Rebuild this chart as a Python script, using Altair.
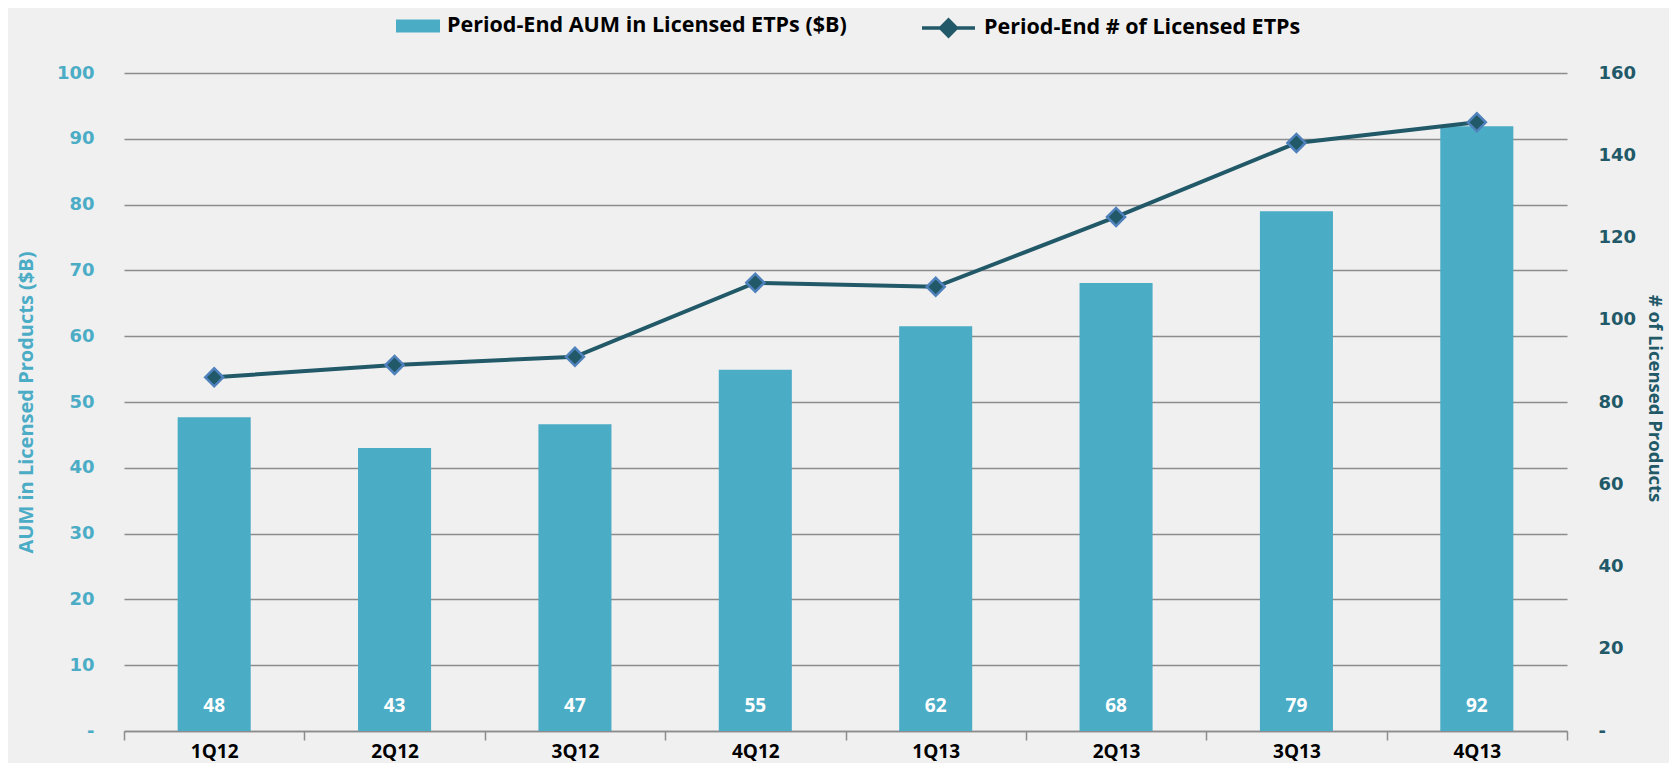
import altair as alt
import pandas as pd

quarters = ["1Q12", "2Q12", "3Q12", "4Q12", "1Q13", "2Q13", "3Q13", "4Q13"]
aum = [47.7, 43.0, 46.6, 54.9, 61.5, 68.1, 79.0, 91.9]
etps = [86, 89, 91, 109, 108, 125, 143, 148]

BAR_SERIES = "Period-End AUM in Licensed ETPs ($B)"
LINE_SERIES = "Period-End # of Licensed ETPs"

df = pd.DataFrame({
    "q": quarters,
    "aum": aum,
    "etps": etps,
    "bs": [BAR_SERIES] * len(quarters),
    "ls": [LINE_SERIES] * len(quarters),
})

BAR = "#4BACC6"
LINE = "#215968"
MARK_STROKE = "#4F81BD"
FONT = "Open Sans"
W, H = 1443, 658

base = alt.Chart(df)

xaxis = alt.Axis(
    title=None, labelFont=FONT, labelFontSize=19, labelFontWeight="bold",
    labelColor="#000000", labelAngle=0, labelPadding=2, tickBand="extent",
    tickSize=9, tickColor="#8c8c8c", tickWidth=1.5, domainColor="#8c8c8c",
    domainWidth=1.5, grid=False,
)
xenc = alt.X("q:N", sort=quarters, axis=xaxis,
             scale=alt.Scale(paddingInner=0, paddingOuter=0))
xplain = alt.X("q:N", sort=quarters)

bars = base.mark_bar(width=alt.RelativeBandSize(0.405)).encode(
    x=xenc,
    y=alt.Y(
        "aum:Q",
        scale=alt.Scale(domain=[0, 100], nice=False),
        axis=alt.Axis(
            title="AUM in Licensed Products ($B)", values=list(range(0, 101, 10)),
            labelExpr="datum.value == 0 ? '-' : datum.label",
            labelFont="DejaVu Sans", labelFontSize=18, labelFontWeight="bold",
            labelColor=BAR, labelPadding=30, ticks=False, domain=False,
            grid=True, gridColor="#8c8c8c", gridWidth=1.5,
            titleFont=FONT, titleFontSize=20, titleFontWeight="bold",
            titleColor=BAR, titleX=-98, titleY=H / 2, titleAngle=-90,
            titleBaseline="middle", titleAlign="center",
        ),
    ),
    fill=alt.Fill(
        "bs:N",
        scale=alt.Scale(domain=[BAR_SERIES], range=[BAR]),
        legend=alt.Legend(
            orient="none", legendX=272, legendY=-69, title=None,
            symbolType="M-1,-0.3H1V0.3H-1Z", symbolSize=1936,
            symbolStrokeWidth=0, labelOffset=7,
        ),
    ),
)

labels = base.mark_text(
    color="white", font=FONT, fontSize=19, fontWeight="bold",
    baseline="middle", dy=-25,
).encode(
    x=xplain,
    y=alt.datum(0),
    text=alt.Text("aum:Q", format=".0f"),
)

line = base.mark_line(strokeWidth=4).encode(
    x=xplain,
    y=alt.Y(
        "etps:Q",
        scale=alt.Scale(domain=[0, 160], nice=False),
        axis=alt.Axis(
            title="# of Licensed Products", orient="right",
            values=list(range(0, 161, 20)),
            labelExpr="datum.value == 0 ? '-' : datum.label",
            labelFont="DejaVu Sans", labelFontSize=18, labelFontWeight="bold",
            labelColor=LINE, labelPadding=31, ticks=False, domain=False,
            grid=False,
            titleFont=FONT, titleFontSize=18.5, titleFontWeight="bold",
            titleColor=LINE, titleX=87, titleY=325, titleAngle=90,
            titleBaseline="middle", titleAlign="center",
        ),
    ),
    stroke=alt.Stroke(
        "ls:N",
        scale=alt.Scale(domain=[LINE_SERIES], range=[LINE]),
        legend=alt.Legend(
            orient="none", legendX=796, legendY=-73.5, title=None,
            symbolType="M-1,0H1M0,-0.3L0.3,0L0,0.3L-0.3,0Z", symbolSize=2809,
            symbolStrokeWidth=3.5, labelOffset=7, symbolFillColor=LINE,
        ),
    ),
)

points = base.mark_point(
    shape="diamond", size=324, filled=True, fill=LINE, stroke=MARK_STROKE,
    strokeWidth=2.5, opacity=1,
).encode(
    x=xplain,
    y=alt.Y("etps:Q"),
)

left = alt.layer(bars, labels)
right = alt.layer(line, points)

chart = alt.layer(left, right).resolve_scale(
    y="independent", fill="independent", stroke="independent"
).properties(
    width=W, height=H,
    autosize=alt.AutoSizeParams(type="none"),
    padding={"left": 116, "top": 65, "right": 102, "bottom": 32},
    background="#f0f0f0",
).configure_view(stroke=None).configure_legend(
    labelFont=FONT, labelFontSize=21.5, labelFontWeight="bold",
    labelColor="#000000", padding=0, labelLimit=0,
)

chart.save("out.html", embed_options={"renderer": "svg", "actions": False})
